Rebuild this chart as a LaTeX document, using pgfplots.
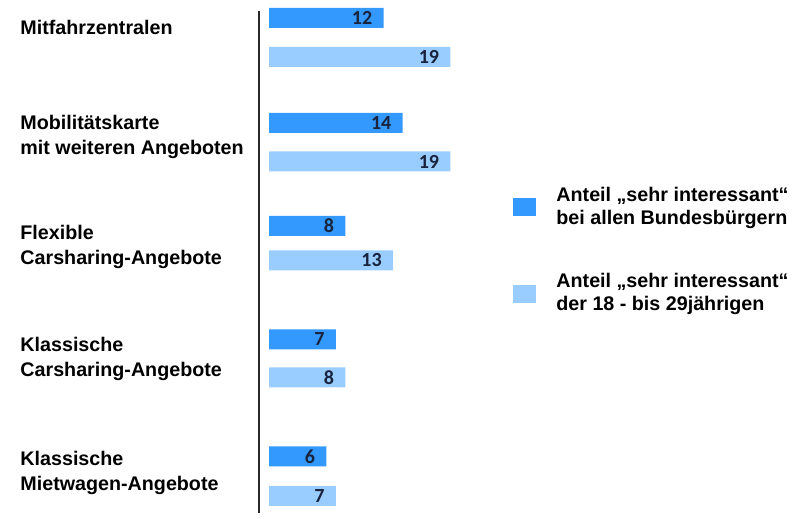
\documentclass[border=0pt]{standalone}
\usepackage{pgfplots}
\pgfplotsset{compat=1.18}
\usepackage{fontspec}
\setmainfont{Liberation Sans}
\newfontfamily\numfont{Carlito}
\definecolor{darkbar}{RGB}{51,153,255}
\definecolor{lightbar}{RGB}{153,204,255}
\definecolor{numcol}{RGB}{25,35,60}
\definecolor{axisline}{RGB}{40,40,40}
\begin{document}
\begin{tikzpicture}
\begin{axis}[
  scale only axis,
  width=274.5pt, height=259.5pt,
  xmin=-1.047, xmax=56.44,
  ymin=-519, ymax=0,
  hide axis,
  clip=false,
  xbar, bar shift=0pt, bar width=20,
  point meta=x,
  /pgf/number format/assume math mode=true,
  nodes near coords,
  nodes near coords style={anchor=east, xshift=-5.5pt, inner sep=0pt,
    font=\numfont\bfseries\fontsize{10}{11}\selectfont, text=numcol},
  legend image code/.code={\fill[#1,draw=none] (0pt,-4.5pt) rectangle (11.5pt,4.5pt);},
  legend style={draw=none, fill=none, inner sep=0pt,
    at={(axis description cs:0.4627,0.640)}, anchor=north west,
    font=\bfseries\fontsize{9.85}{11.5}\selectfont,
    row sep=23pt,
    cells={anchor=west, align=left},
    nodes={inner sep=0pt},
    /tikz/every odd column/.append style={column sep=10pt}},
]
\addplot[fill=darkbar, draw=none] coordinates {(12,-18) (14,-123) (8,-226) (7,-339.5) (6,-456.5)};
\addlegendentry{Anteil „sehr interessant“\\bei allen Bundesbürgern}
\addplot[fill=lightbar, draw=none] coordinates {(19,-57) (19,-161.5) (13,-260.5) (8,-377.5) (7,-496)};
\addlegendentry{Anteil „sehr interessant“\\der 18 - bis 29jährigen}

\draw[line width=1pt, axisline] (axis cs:-1.047,-11) -- (axis cs:-1.047,-513);

\begin{scope}[every node/.style={anchor=west, inner sep=0pt, align=left,
    font=\bfseries\fontsize{9.85}{12.5}\selectfont}]
\node at (axis cs:-26.07,-27) {Mitfahrzentralen};
\node at (axis cs:-26.07,-137) {Mobilitätskarte\\mit weiteren Angeboten};
\node at (axis cs:-26.07,-246.5) {Flexible\\Carsharing-Angebote};
\node at (axis cs:-26.07,-359) {Klassische\\Carsharing-Angebote};
\node at (axis cs:-26.07,-473) {Klassische\\Mietwagen-Angebote};
\end{scope}

\path (axis cs:-28.17,0) rectangle (axis cs:56.44,-519);
\end{axis}
\end{tikzpicture}
\end{document}
